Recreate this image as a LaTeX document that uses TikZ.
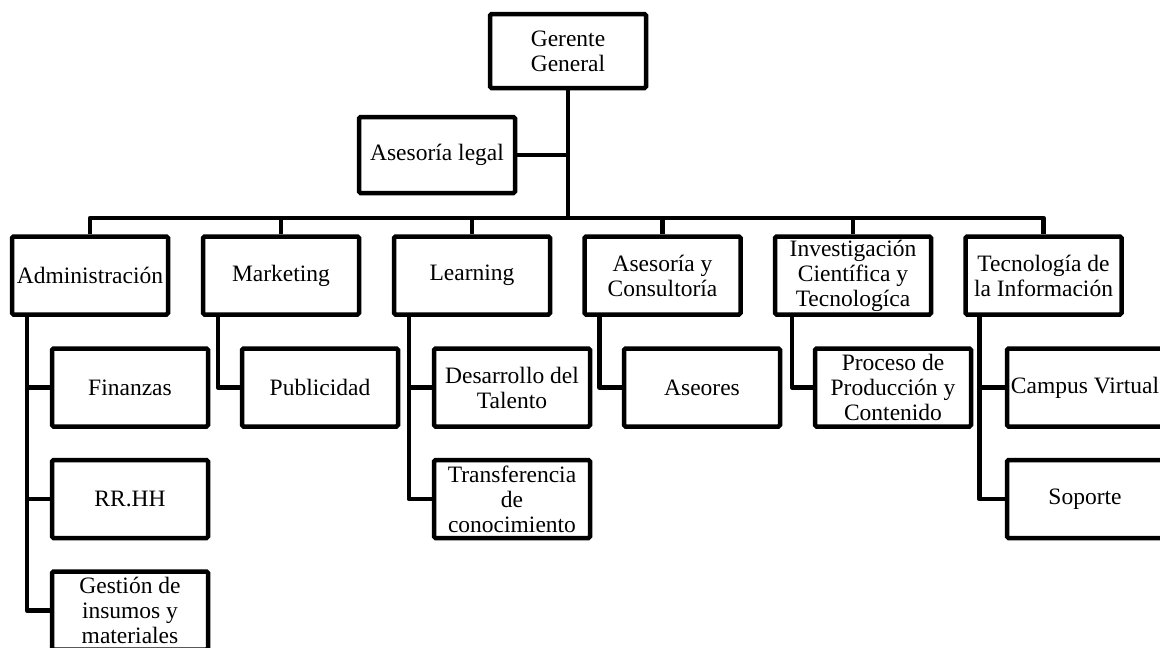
\documentclass[tikz,border=0pt]{standalone}
\usepackage{fontspec}
\setmainfont{Liberation Serif}
\begin{document}
\begin{tikzpicture}[x=1pt,y=-1pt,
  box/.style={draw=black, line width=4.5pt, rounded corners=1.5pt, fill=white,
    minimum width=156pt, minimum height=78pt, inner sep=1pt, align=center,
    font=\fontsize{23.5}{25}\selectfont},
  conn/.style={line width=4.5pt, line join=round}]
\clip (0,0) rectangle (1160,648);
\useasboundingbox (0,0) rectangle (1160,648);
\fill[white] (0,0) rectangle (1160,648);
% top
\node[box, minimum height=74pt] (gg) at (568,51) {Gerente\\General};
\node[box, minimum height=76pt] (asl) at (437,155) {Asesoría legal};
\coordinate (bus) at (568,218);
% level 1
\node[box] (adm) at (90,275.5) {Administración};
\node[box] (mkt) at (281,275.5) {Marketing};
\node[box] (lrn) at (472,275.5) {Learning};
\node[box] (asc) at (662.5,275.5) {Asesoría y\\Consultoría};
\node[box] (inv) at (853,275.5) {Investigación\\Científica y\\Tecnologíca};
\node[box] (tec) at (1043.5,275.5) {Tecnología de\\la Información};
% level 2
\node[box] (fin) at (130,387.5) {Finanzas};
\node[box] (rrh) at (130,499) {RR.HH};
\node[box] (ges) at (130,610.5) {Gestión de\\insumos y\\materiales};
\node[box] (pub) at (320,387.5) {Publicidad};
\node[box] (des) at (512,387.5) {Desarrollo del\\Talento};
\node[box] (tra) at (512,499) {Transferencia\\de\\conocimiento};
\node[box] (ase) at (702,387.5) {Aseores};
\node[box] (pro) at (893,387.5) {Proceso de\\Producción y\\Contenido};
\node[box] (cam) at (1085,387.5) {Campus Virtual};
\node[box] (sop) at (1085,499) {Soporte};
% connectors top
\draw[conn] (asl.east) -- (asl.east -| gg.south);
\foreach \c in {adm,mkt,lrn,asc,inv,tec}{
  \draw[conn] (gg.south) -- (bus) -| (\c.north);
}
% connectors level 2
\draw[conn] ([xshift=17pt]adm.south west) |- (fin.west);
\draw[conn] ([xshift=17pt]adm.south west) |- (rrh.west);
\draw[conn] ([xshift=17pt]adm.south west) |- (ges.west);
\draw[conn] ([xshift=17pt]mkt.south west) |- (pub.west);
\draw[conn] ([xshift=17pt]lrn.south west) |- (des.west);
\draw[conn] ([xshift=17pt]lrn.south west) |- (tra.west);
\draw[conn] ([xshift=17pt]asc.south west) |- (ase.west);
\draw[conn] ([xshift=19pt]inv.south west) |- (pro.west);
\draw[conn] ([xshift=16pt]tec.south west) |- (cam.west);
\draw[conn] ([xshift=16pt]tec.south west) |- (sop.west);
\end{tikzpicture}
\end{document}
